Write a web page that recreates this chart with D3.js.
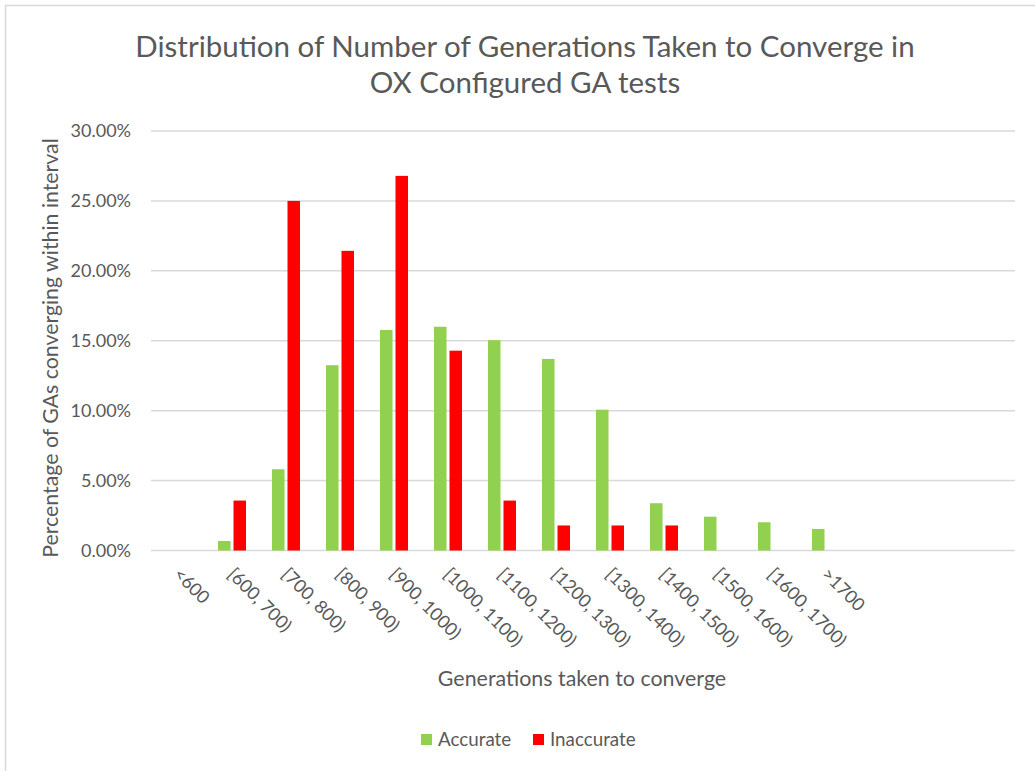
<!DOCTYPE html>
<html>
<head>
<meta charset="utf-8">
<script src="https://cdn.jsdelivr.net/npm/d3@7"></script>
<style>
  html, body { margin: 0; padding: 0; background: #fff; }
  svg text { font-family: Lato, "Open Sans", sans-serif; fill: #595959; }
</style>
</head>
<body>
<svg id="chart" width="1035" height="771"></svg>
<script>
// Generation-count intervals (the last slots of the axis are left empty)
const categories = ["<600", "[600, 700)", "[700, 800)", "[800, 900)", "[900, 1000)",
  "[1000, 1100)", "[1100, 1200)", "[1200, 1300)", "[1300, 1400)", "[1400, 1500)",
  "[1500, 1600)", "[1600, 1700)", ">1700"];
const emptySlots = 3;

const seriesNames = ["Accurate", "Inaccurate"];
// Share of GAs converging in each interval
const accurate   = [0, 0.0068, 0.0581, 0.1325, 0.1577, 0.1600, 0.1504, 0.1370, 0.1007, 0.0338, 0.0242, 0.0202, 0.0154];
const inaccurate = [0, 0.0357, 0.2500, 0.2143, 0.2679, 0.1429, 0.0357, 0.0179, 0.0179, 0.0179, 0, 0, 0];

const yTicks = [0, 0.05, 0.10, 0.15, 0.20, 0.25, 0.30];
const colors = { Accurate: "#92D050", Inaccurate: "#FF0000" };

const svg = d3.select("#chart");

// chart frame
svg.append("rect")
  .attr("x", 5.5).attr("y", 5.5).attr("width", 1100).attr("height", 900)
  .attr("fill", "none").attr("stroke", "#d9d9d9").attr("stroke-width", 1.5);

const plotLeft = 151, plotRight = 1015, plotTop = 131, plotBottom = 550.5;
const slots = d3.range(categories.length + emptySlots);

const x = d3.scaleBand().domain(slots).range([plotLeft, plotRight]).paddingInner(0).paddingOuter(0);
const x1 = d3.scaleBand().domain(seriesNames).range([0, x.bandwidth()])
  .paddingInner(0.1935).paddingOuter(0.839);
const y = d3.scaleLinear().domain([0, 0.30]).range([plotBottom, plotTop]);

// gridlines
svg.append("g").selectAll("line").data(yTicks).join("line")
  .attr("x1", plotLeft).attr("x2", plotRight)
  .attr("y1", d => y(d)).attr("y2", d => y(d))
  .attr("stroke", "#d9d9d9").attr("stroke-width", 1.5);

// y axis labels
const yAxis = d3.axisLeft(y).tickValues(yTicks).tickSize(0).tickPadding(0)
  .tickFormat(d3.format(".2%"));
const yg = svg.append("g").attr("transform", "translate(131,0)").call(yAxis);
yg.select(".domain").remove();
yg.selectAll("text").style("font-size", "18px").attr("fill", "#595959")
  .style("font-family", "Lato, sans-serif");

// bars
const rows = categories.map((c, i) => ({ i, values: [
  { key: "Accurate", value: accurate[i] },
  { key: "Inaccurate", value: inaccurate[i] }
]}));

svg.append("g").selectAll("g").data(rows).join("g")
  .attr("transform", d => `translate(${x(d.i)},0)`)
  .selectAll("rect").data(d => d.values.filter(v => v.value > 0)).join("rect")
  .attr("x", d => x1(d.key))
  .attr("width", x1.bandwidth())
  .attr("y", d => y(d.value))
  .attr("height", d => y(0) - y(d.value))
  .attr("fill", d => colors[d.key]);

// x category labels, rotated 45°
svg.append("g").selectAll("text").data(categories).join("text")
  .attr("transform", (d, i) => `translate(${x(i) + x.bandwidth() / 2 - 1},571) rotate(45)`)
  .attr("dy", "0.35em")
  .attr("text-anchor", "start")
  .style("font-size", "18px")
  .text(d => d);

// title
const title = svg.append("text").attr("x", 525).attr("text-anchor", "middle")
  .style("font-size", "29.5px");
title.append("tspan").attr("x", 525).attr("y", 57)
  .text("Distribution of Number of Generations Taken to Converge in");
title.append("tspan").attr("x", 525).attr("y", 93)
  .text("OX Configured GA tests");

// axis titles
svg.append("text").attr("x", 582).attr("y", 686).attr("text-anchor", "middle")
  .style("font-size", "21.4px").text("Generations taken to converge");

svg.append("text")
  .attr("transform", "translate(58,348) rotate(-90)")
  .attr("text-anchor", "middle")
  .style("font-size", "21.3px")
  .text("Percentage of GAs converging within interval");

// legend
const legendItems = [
  { key: "Accurate", sx: 421, tx: 438 },
  { key: "Inaccurate", sx: 533, tx: 550 }
];
const lg = svg.append("g");
lg.selectAll("rect").data(legendItems).join("rect")
  .attr("x", d => d.sx).attr("y", 734).attr("width", 11).attr("height", 11)
  .attr("fill", d => colors[d.key]);
lg.selectAll("text").data(legendItems).join("text")
  .attr("x", d => d.tx).attr("y", 746)
  .style("font-size", "18.8px")
  .text(d => d.key);
</script>
</body>
</html>
